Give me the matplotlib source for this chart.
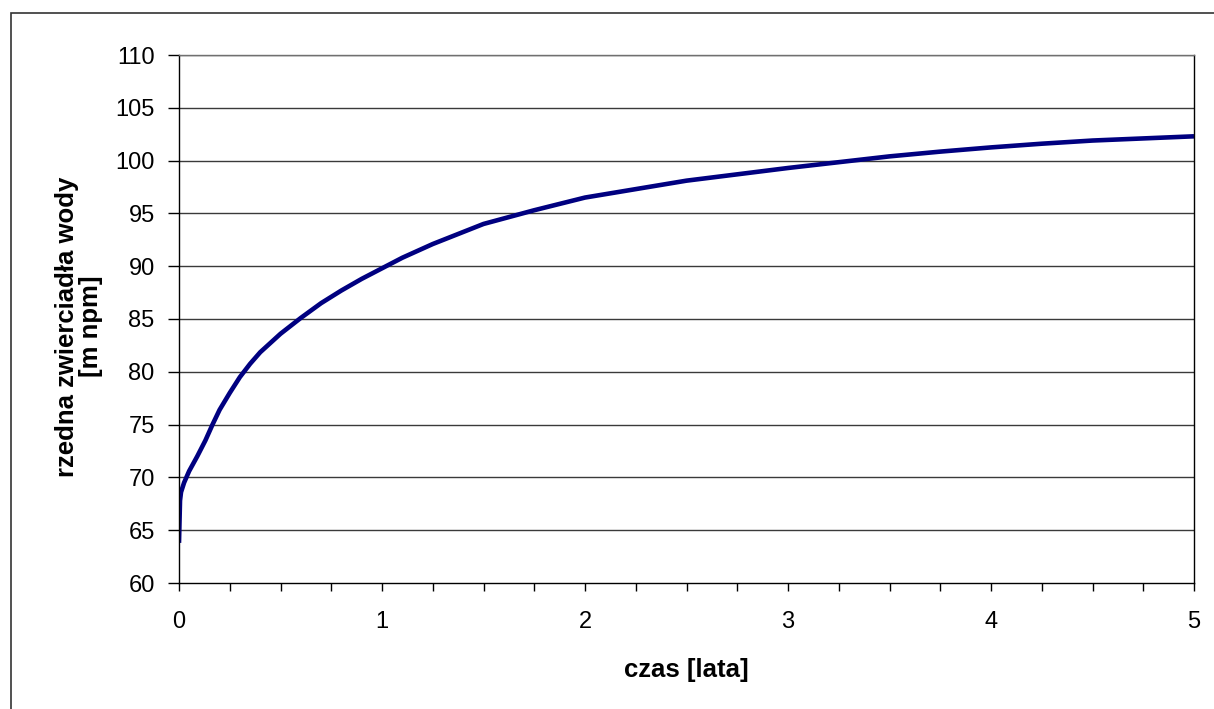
import matplotlib.pyplot as plt
from matplotlib.patches import Rectangle
from matplotlib.ticker import MultipleLocator

# czas [lata] vs rzedna zwierciadla wody [m npm]
czas = [0.0, 0.005, 0.01, 0.025, 0.05, 0.09, 0.13, 0.165, 0.2, 0.25, 0.3, 0.35,
        0.4, 0.5, 0.6, 0.7, 0.8, 0.9, 1.0, 1.1, 1.25, 1.5, 1.75, 2.0, 2.25,
        2.5, 2.75, 3.0, 3.25, 3.5, 3.75, 4.0, 4.25, 4.5, 4.75, 5.0]
rzedna = [63.8, 67.8, 68.6, 69.5, 70.6, 72.0, 73.5, 75.0, 76.4, 78.0, 79.5, 80.75,
          81.85, 83.6, 85.1, 86.5, 87.7, 88.8, 89.8, 90.8, 92.1, 94.0, 95.3, 96.5, 97.3,
          98.1, 98.7, 99.3, 99.85, 100.4, 100.85, 101.25, 101.6, 101.9, 102.1, 102.3]

y_ticks = [60, 65, 70, 75, 80, 85, 90, 95, 100, 105, 110]
x_ticks = [0, 1, 2, 3, 4, 5]

plt.rcParams["font.family"] = ["Liberation Sans", "DejaVu Sans"]

W, H = 1214, 709
fig = plt.figure(figsize=(W / 100, H / 100), dpi=100)

# outer chart border (only top and left edges fall inside the image)
fig.patches.append(Rectangle((11 / W, -0.1), 1.2, 1 - 13 / H + 0.1,
                             transform=fig.transFigure, fill=False,
                             edgecolor="#333333", linewidth=1.2))

ax = fig.add_axes([179 / W, 1 - 583 / H, (1194 - 179) / W, (583 - 55) / H])

ax.plot(czas, rzedna, color="#000080", linewidth=3.3,
        solid_capstyle="butt", solid_joinstyle="round")

ax.set_xlim(0, 5)
ax.set_ylim(60, 110)
ax.set_xticks(x_ticks)
ax.xaxis.set_minor_locator(MultipleLocator(0.25))
ax.set_yticks(y_ticks)

for y in y_ticks[1:]:
    ax.axhline(y, color="#3a3a3a", linewidth=1.0, zorder=0)

ax.tick_params(axis="both", which="both", direction="out", color="black",
               width=1.0, labelsize=17)
ax.tick_params(axis="y", length=8, pad=9.5)
ax.tick_params(axis="x", which="major", length=6, pad=14)
ax.tick_params(axis="x", which="minor", length=6)

for side in ["left", "bottom", "right"]:
    ax.spines[side].set_color("black")
    ax.spines[side].set_linewidth(1.0)
ax.spines["top"].set_color("#707070")
ax.spines["top"].set_linewidth(1.0)

ax.set_xlabel("czas [lata]", fontsize=18.5, fontweight="bold", labelpad=18)
ax.set_ylabel("rzedna zwierciadła wody\n[m npm]", fontsize=18.5,
              fontweight="bold", labelpad=9, linespacing=1.0)
ax.yaxis.label.set_y(0.486)

fig.savefig("out.png", dpi=100)
